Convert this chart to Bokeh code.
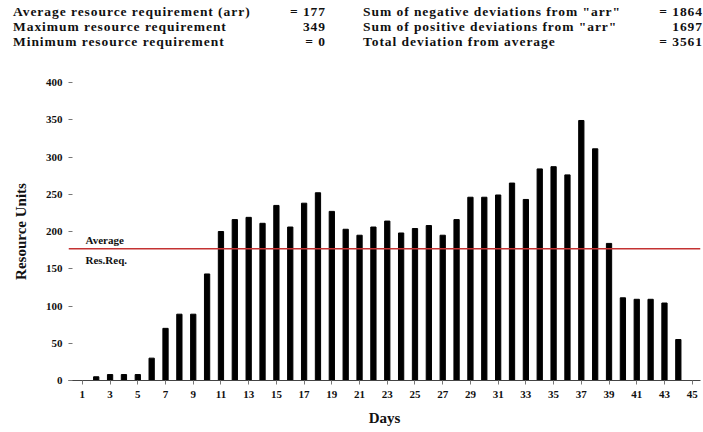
from bokeh.plotting import figure
from bokeh.models import Label, Span, FixedTicker, Range1d, Div
from bokeh.layouts import column
from bokeh.embed import file_html
from bokeh.resources import INLINE

days = list(range(1, 45))
units = [0, 5, 8, 8, 8, 30, 70, 89, 89, 143,
         200, 216, 219, 211, 235, 206, 238, 252, 227, 203,
         195, 206, 214, 198, 204, 208, 195, 216, 246, 246,
         249, 265, 243, 284, 287, 276, 349, 311, 184, 111,
         109, 109, 104, 55]
average_req = 177
x_ticks = list(range(1, 46, 2))
y_ticks = list(range(0, 401, 50))

left_names = ["Average resource requirement (arr)",
              "Maximum resource requirement",
              "Minimum resource requirement"]
left_values = ["= 177", "349", "= 0"]
right_names = ['Sum of negative deviations from "arr"',
               'Sum of positive deviations from "arr"',
               "Total deviation from average"]
right_values = ["= 1864", "1697", "= 3561"]

FONT = "Liberation Serif"

# ---- header (statistics) ----
row_tops = [3, 18, 33]
parts = []
txt_style = ("position:absolute;white-space:nowrap;font-family:'Liberation Serif';"
             "font-weight:bold;font-size:13.5px;line-height:18px;color:#111;"
             "letter-spacing:0.95px;")
for i in range(3):
    t = row_tops[i]
    parts.append(f'<div style="{txt_style}left:13px;top:{t}px;">{left_names[i]}</div>')
    parts.append(f'<div style="{txt_style}right:{703-326}px;top:{t}px;text-align:right;">{left_values[i]}</div>')
    parts.append(f'<div style="{txt_style}left:363px;top:{t}px;">{right_names[i]}</div>')
    parts.append(f'<div style="{txt_style}right:0px;top:{t}px;text-align:right;">{right_values[i]}</div>')
header_html = ('<div style="position:relative;width:703px;height:70px;">'
               + "".join(parts) + "</div>")
header = Div(text=header_html, width=703, height=70, margin=(0, 0, 0, 0))

# ---- chart ----
p = figure(width=703, height=362, output_backend="svg", toolbar_location=None,
           x_range=Range1d(0.0, 45.6), y_range=Range1d(0, 400),
           min_border_left=68, min_border_right=3, min_border_top=12,
           min_border_bottom=52, margin=(0, 0, 0, 0))
p.outline_line_color = None
p.xgrid.visible = False
p.ygrid.visible = False

p.vbar(x=days, top=units, width=0.38, color="black")
p.add_layout(Span(location=average_req, dimension="width",
                  line_color="#c43232", line_width=1.5))

p.xaxis.ticker = FixedTicker(ticks=x_ticks)
p.yaxis.ticker = FixedTicker(ticks=y_ticks)
p.xaxis.minor_tick_line_color = None
p.yaxis.minor_tick_line_color = None
p.yaxis.axis_line_color = None
p.xaxis.axis_line_color = "#444444"
p.yaxis.major_tick_line_color = "#777777"
p.xaxis.major_tick_line_color = "#777777"
p.yaxis.major_tick_in = 4
p.yaxis.major_tick_out = 0
p.xaxis.major_tick_in = 0
p.xaxis.major_tick_out = 4
for ax in (p.xaxis, p.yaxis):
    ax.major_label_text_font = FONT
    ax.major_label_text_font_style = "bold"
    ax.major_label_text_font_size = "11px"
    ax.major_label_text_color = "#111111"
    ax.axis_label_text_font = FONT
    ax.axis_label_text_font_style = "bold"
    ax.axis_label_text_font_size = "15px"
    ax.axis_label_text_color = "#111111"
p.yaxis.major_label_standoff = 6
p.xaxis.major_label_standoff = 6
p.xaxis.axis_label = "Days"
p.yaxis.axis_label = "Resource Units"
p.xaxis.axis_label_standoff = 9
p.yaxis.axis_label_standoff = 14

p.add_layout(Label(x=17, y=141, x_units="screen", y_units="screen",
                   text="Average", text_font=FONT, text_font_style="bold",
                   text_font_size="11px", text_baseline="middle", text_color="#111111"))
p.add_layout(Label(x=17, y=121, x_units="screen", y_units="screen",
                   text="Res.Req.", text_font=FONT, text_font_style="bold",
                   text_font_size="11px", text_baseline="middle", text_color="#111111"))

layout = column(header, p, spacing=0)
open("out.html", "w").write(file_html(layout, INLINE))
